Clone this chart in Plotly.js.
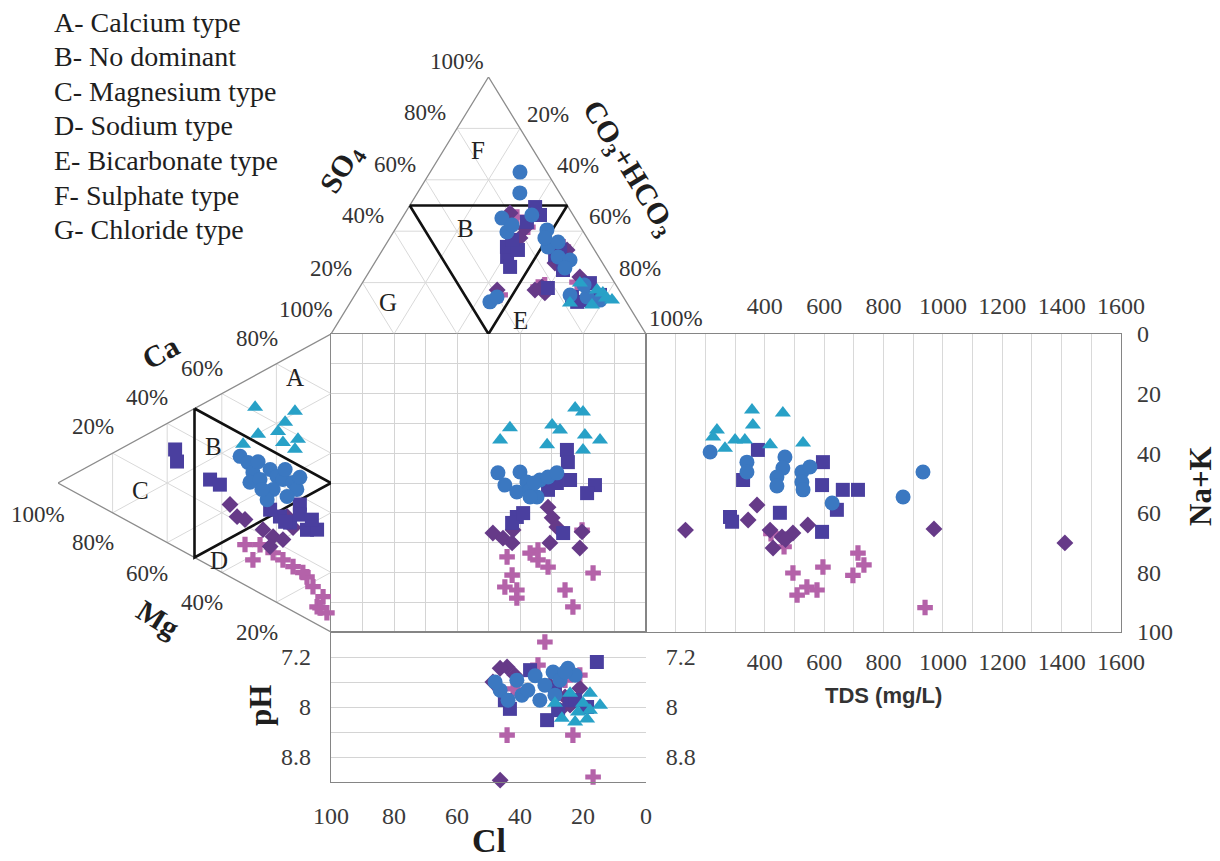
<!DOCTYPE html>
<html>
<head>
<meta charset="utf-8">
<script src="https://cdn.plot.ly/plotly-3.0.1.min.js"></script>
<style>
  html, body { margin: 0; padding: 0; background: #ffffff; }
  #chart { width: 1220px; height: 861px; font-family: "Liberation Serif"; }
</style>
</head>
<body>
<div id="chart"></div>
<script>
// ---------------- Durov diagram data ----------------
// Anion triangle (%): Cl, SO4, CO3+HCO3
const circleAnCl   = [8.5, 12.6, 23.2, 24.3, 13.1, 14.2, 12.9, 9.7, 43.3, 40.1, 16.5, 11.5, 11.2, 10.0, 21.3, 13.4, 12.9, 8.0, 10.1];
const circleAnSO4  = [63.0, 54.9, 45.1, 39.7, 46.3, 33.9, 30.0, 28.8, 12.5, 14.4, 15.2, 14.4, 40.5, 35.8, 42.4, 37.4, 25.7, 13.2, 19.1];
const circleAnHCO3 = [28.5, 32.5, 31.7, 36.0, 40.6, 51.9, 57.1, 61.5, 44.2, 45.5, 68.3, 74.1, 48.3, 54.2, 36.3, 49.2, 61.4, 78.8, 70.8];

const triangleAnCl   = [5.7, 11.5, 18.1, 4.2, 11.1, 7.0, 5.7];
const triangleAnSO4  = [16.0, 11.3, 12.1, 13.2, 19.8, 17.1, 14.0];
const triangleAnHCO3 = [78.3, 77.2, 69.8, 82.6, 69.1, 75.9, 80.3];

const squareAnCl   = [10.5, 10.5, 29.1, 30.1, 27.2, 24.3, 16.3, 15.6, 7.9, 10.9, 13.9, 22.2, 16.0, 24.2, 13.5, 11.2, 7.0];
const squareAnSO4  = [49.4, 46.3, 30.0, 26.1, 33.9, 32.7, 14.4, 12.5, 19.8, 32.7, 24.9, 17.9, 43.6, 36.6, 30.7, 13.2, 15.2];
const squareAnHCO3 = [40.1, 43.2, 40.9, 43.8, 38.9, 43.0, 69.3, 71.9, 72.3, 56.4, 61.2, 59.9, 40.4, 39.2, 55.8, 75.6, 77.8];

const diamondAnCl   = [19.6, 21.3, 23.9, 24.1, 38.7, 15.1, 9.9, 17.8, 26.7, 8.7];
const diamondAnSO4  = [47.1, 37.4, 18.3, 16.0, 17.1, 27.6, 22.2, 41.2, 17.1, 32.7];
const diamondAnHCO3 = [33.3, 41.3, 57.8, 59.9, 44.2, 57.3, 67.9, 41.0, 56.2, 58.6];

const crossAnCl   = [16.7, 18.2, 25.1, 11.8, 9.3, 38.7, 22.6];
const crossAnSO4  = [41.6, 45.5, 18.3, 20.2, 33.9, 15.2, 19.1];
const crossAnHCO3 = [41.7, 36.3, 56.6, 68.0, 56.8, 46.1, 58.3];

// Cation triangle (%): Ca, Mg, Na+K
const circleCatCa  = [42.3, 41.7, 39.2, 35.4, 38.2, 43.4, 42.3, 42.4, 43.2, 41.6, 37.4, 37.2, 32.7, 43.8, 46.1, 35.2, 46.2];
const circleCatMg  = [33.3, 30.4, 28.6, 29.7, 26.0, 22.3, 19.8, 17.6, 13.9, 12.5, 16.1, 21.2, 23.4, 26.7, 16.8, 25.3, 11.4];
const circleCatNaK = [24.4, 27.9, 32.2, 34.9, 35.8, 34.3, 37.9, 40.0, 42.9, 45.9, 46.5, 41.6, 43.9, 29.5, 37.1, 39.5, 42.4];

const triangleCatCa  = [61.5, 67.5, 53.0, 57.6, 62.0, 58.6, 54.7, 46.9, 54.8];
const triangleCatMg  = [27.8, 13.2, 26.7, 19.4, 16.8, 12.1, 13.2, 32.2, 17.6];
const triangleCatNaK = [10.7, 19.3, 20.3, 23.0, 21.2, 29.3, 32.1, 20.9, 27.6];

const squareCatCa  = [29.0, 29.1, 32.7, 29.0, 29.4, 29.2, 29.9, 31.8, 29.9, 37.1, 33.7, 34.2, 28.6];
const squareCatMg  = [44.3, 40.7, 57.1, 56.4, 18.7, 15.0, 8.8, 5.1, 22.3, 11.4, 11.4, 7.0, 16.8];
const squareCatNaK = [26.7, 30.2, 10.2, 14.6, 51.9, 55.8, 61.3, 63.1, 47.8, 51.5, 54.9, 58.8, 54.6];

const diamondCatCa  = [24.3, 21.5, 21.9, 21.4, 22.2, 17.5, 30.7, 22.0, 28.1];
const diamondCatMg  = [37.0, 34.4, 24.9, 21.2, 17.6, 22.3, 16.1, 31.5, 13.9];
const diamondCatNaK = [38.7, 44.1, 53.2, 57.4, 60.2, 60.2, 53.2, 46.5, 58.0];

const crossCatCa  = [9.9, 16.0, 15.0, 14.1, 11.9, 10.4, 5.9, 5.7, 16.3, 14.8, 13.6, 15.4, 6.1];
const crossCatMg  = [28.6, 21.2, 13.9, 8.8, 6.6, 2.9, 5.1, 1.5, 26.0, 10.3, 31.5, 17.6, 4.0];
const crossCatNaK = [61.5, 62.8, 71.1, 77.1, 81.5, 86.7, 89.0, 92.8, 57.7, 74.9, 54.9, 67.0, 89.9];

// Central square: Cl (%) against Na+K (%)
const circleSqCl  = [47.0, 44.8, 40.0, 37.8, 41.0, 36.8, 34.6, 33.7, 31.1, 28.3, 35.5, 36.8];
const circleSqNaK = [46.6, 50.7, 46.3, 49.7, 53.0, 52.3, 54.7, 49.0, 48.0, 46.6, 50.0, 54.7];
const triangleSqCl  = [22.5, 20.0, 43.2, 46.3, 29.8, 27.3, 31.4, 19.4, 14.6, 20.0];
const triangleSqNaK = [24.8, 26.2, 31.5, 35.6, 30.5, 32.2, 37.2, 33.9, 35.6, 38.9];
const squareSqCl  = [25.1, 24.8, 24.1, 16.2, 18.7, 26.3, 41.0, 42.5, 39.0, 28.3, 31.1];
const squareSqNaK = [38.9, 43.0, 49.0, 50.7, 53.4, 66.8, 61.4, 63.4, 60.1, 50.0, 52.3];
const diamondSqCl  = [48.6, 45.4, 42.5, 42.2, 31.1, 29.8, 28.3, 30.5, 20.3, 21.0];
const diamondSqNaK = [66.8, 68.5, 70.1, 65.8, 58.1, 61.7, 64.8, 70.1, 66.4, 71.8];
const crossSqCl  = [44.1, 36.8, 34.3, 34.3, 31.1, 42.5, 44.8, 41.0, 41.0, 25.7, 23.2, 16.8, 20.3];
const crossSqNaK = [74.8, 73.5, 72.5, 75.8, 78.2, 80.9, 84.9, 85.9, 88.6, 85.9, 91.6, 80.2, 65.8];

// TDS panel: TDS (mg/L) against Na+K (%)
const circleTds    = [216, 340, 340, 468, 461, 441, 525, 552, 525, 529, 627, 933, 866, 441];
const circleTdsNaK = [39.6, 43.0, 46.3, 41.3, 45.0, 48.0, 46.3, 44.6, 49.7, 52.3, 56.7, 46.3, 54.7, 51.0];
const triangleTds    = [357, 461, 360, 239, 226, 300, 333, 418, 529, 266];
const triangleTdsNaK = [25.5, 26.5, 30.5, 32.2, 34.6, 35.6, 35.6, 37.2, 36.6, 38.3];
const squareTds    = [377, 596, 327, 593, 663, 283, 290, 451, 593, 643, 714];
const squareTdsNaK = [38.9, 43.0, 49.0, 50.7, 52.3, 61.4, 63.0, 60.0, 66.4, 59.0, 52.3];
const diamondTds    = [133, 374, 344, 545, 458, 428, 418, 495, 970, 1411, 470];
const diamondTdsNaK = [65.8, 57.4, 62.4, 64.1, 68.1, 71.8, 65.8, 66.8, 65.4, 70.1, 69.0];
const crossTds    = [495, 596, 509, 542, 576, 714, 734, 697, 940, 465, 421];
const crossTdsNaK = [80.2, 78.2, 87.6, 84.9, 85.9, 73.5, 77.5, 81.0, 91.8, 71.4, 67.0];

// pH panel: Cl (%) against pH
const circlePhCl = [46.3, 43.8, 41.0, 39.4, 35.2, 32.1, 29.5, 27.3, 24.8, 22.5, 28.9, 33.7, 47.9, 37.5, 25.7];
const circlePh   = [7.73, 7.89, 7.57, 7.81, 7.50, 7.65, 7.44, 7.57, 7.38, 7.49, 7.81, 7.89, 7.60, 7.73, 7.44];
const trianglePhCl = [14.6, 18.7, 22.5, 26.7, 20.0, 24.1, 28.9, 17.8, 17.8, 21.6];
const trianglePh   = [7.97, 8.19, 8.24, 8.18, 7.94, 7.78, 7.94, 7.78, 8.05, 8.08];
const squarePhCl = [15.6, 31.4, 43.2, 18.7, 24.1, 27.9, 36.8, 44.8, 28.9, 22.5];
const squarePh   = [7.28, 8.21, 8.03, 8.00, 7.89, 8.05, 7.41, 7.89, 7.73, 7.89];
const diamondPhCl = [46.3, 48.6, 44.1, 41.6, 25.7, 27.3, 30.5, 21.0, 46.3, 24.1];
const diamondPh   = [9.17, 7.60, 7.36, 7.49, 7.84, 8.05, 7.65, 7.70, 7.38, 7.97];
const crossPhCl = [32.1, 44.1, 23.2, 16.8, 34.3, 42.2, 21.0, 25.7];
const crossPh   = [6.96, 8.45, 8.45, 9.12, 7.33, 7.71, 7.49, 7.57];

// Axis tick labels
const tdsTicks = [400, 600, 800, 1000, 1200, 1400, 1600];
const nakTicks = [0, 20, 40, 60, 80, 100];
const clTicks = [100, 80, 60, 40, 20, 0];
const phTicks = [7.2, 8, 8.8];
const phTickText = ['7.2', '8', '8.8'];
const percentTicks = [20, 40, 60, 80];

const waterTypes = [
  'A- Calcium type', 'B- No dominant', 'C- Magnesium type', 'D- Sodium type',
  'E- Bicarbonate type', 'F- Sulphate type', 'G- Chloride type'
];

// ---------------- geometry & helpers ----------------
const W = 1220, H = 861;
const SERIF = 'Liberation Serif';
const SANS = 'Liberation Sans';
const px = x => x / W;
const py = y => 1 - y / H;
// serif run for plain (non-bold) labels
const reg = t => '<span style="font-family:Liberation Serif;font-weight:normal">' + t + '</span>';
const bold = t => '<b>' + t + '</b>';

// panel frames in page pixels
const SQ = { l: 331, r: 646, t: 334, b: 632 };
const TDSR = 1121;
const PH_B = 782;
const TOP_APEX_Y = 77;
const LEFT_APEX_X = 58;

// ternary -> unit plane of each triangle
function anionXY(cl, so4, hco3) {
  const s = cl + so4 + hco3;
  return [(hco3 + so4 / 2) / s, so4 / s];
}
function cationXY(ca, mg, nak) {
  const s = ca + mg + nak;
  return [(ca + nak) / s, (ca + mg / 2) / s];
}

const groups = [
  { key: 'cross',    symbol: 'cross',       color: '#b462a9', size: 13,
    an: [crossAnCl, crossAnSO4, crossAnHCO3], cat: [crossCatCa, crossCatMg, crossCatNaK],
    sq: [crossSqCl, crossSqNaK], tds: [crossTds, crossTdsNaK], ph: [crossPhCl, crossPh] },
  { key: 'diamond',  symbol: 'diamond',     color: '#663a88', size: 13,
    an: [diamondAnCl, diamondAnSO4, diamondAnHCO3], cat: [diamondCatCa, diamondCatMg, diamondCatNaK],
    sq: [diamondSqCl, diamondSqNaK], tds: [diamondTds, diamondTdsNaK], ph: [diamondPhCl, diamondPh] },
  { key: 'square',   symbol: 'square',      color: '#4a3f9f', size: 14,
    an: [squareAnCl, squareAnSO4, squareAnHCO3], cat: [squareCatCa, squareCatMg, squareCatNaK],
    sq: [squareSqCl, squareSqNaK], tds: [squareTds, squareTdsNaK], ph: [squarePhCl, squarePh] },
  { key: 'circle',   symbol: 'circle',      color: '#3b78c1', size: 15,
    an: [circleAnCl, circleAnSO4, circleAnHCO3], cat: [circleCatCa, circleCatMg, circleCatNaK],
    sq: [circleSqCl, circleSqNaK], tds: [circleTds, circleTdsNaK], ph: [circlePhCl, circlePh] },
  { key: 'triangle', symbol: 'triangle-up', color: '#28a1c7', size: 14,
    an: [triangleAnCl, triangleAnSO4, triangleAnHCO3], cat: [triangleCatCa, triangleCatMg, triangleCatNaK],
    sq: [triangleSqCl, triangleSqNaK], tds: [triangleTds, triangleTdsNaK], ph: [trianglePhCl, trianglePh] }
];

const traces = [];

// ---- triangle frames and grids ----
function lineTrace(xs, ys, xa, ya, color, width) {
  return { type: 'scatter', mode: 'lines', x: xs, y: ys, xaxis: xa, yaxis: ya,
           line: { color: color, width: width }, hoverinfo: 'skip', showlegend: false, cliponaxis: false };
}
function ternaryGrid(toXY, xa, ya) {
  const gx = [], gy = [];
  percentTicks.forEach(k => {
    const segs = [
      [[100 - k, k, 0], [0, k, 100 - k]],
      [[100 - k, 0, k], [0, 100 - k, k]],
      [[k, 0, 100 - k], [k, 100 - k, 0]]
    ];
    segs.forEach(([p, q]) => {
      const a = toXY(p[0], p[1], p[2]), b = toXY(q[0], q[1], q[2]);
      gx.push(a[0], b[0], null); gy.push(a[1], b[1], null);
    });
  });
  traces.push(lineTrace(gx, gy, xa, ya, '#d9d9d9', 1));
  const corners = [[100, 0, 0], [0, 100, 0], [0, 0, 100], [100, 0, 0]].map(c => toXY(c[0], c[1], c[2]));
  traces.push(lineTrace(corners.map(c => c[0]), corners.map(c => c[1]), xa, ya, '#8c8c8c', 1.3));
  const mids = [[50, 50, 0], [0, 50, 50], [50, 0, 50], [50, 50, 0]].map(c => toXY(c[0], c[1], c[2]));
  traces.push(lineTrace(mids.map(c => c[0]), mids.map(c => c[1]), xa, ya, '#111111', 2.6));
}
ternaryGrid(anionXY, 'x4', 'y4');
ternaryGrid(cationXY, 'x6', 'y6');

// ---- sample markers in every panel ----
function markerTrace(xs, ys, xa, ya, g) {
  return { type: 'scatter', mode: 'markers', x: xs, y: ys, xaxis: xa, yaxis: ya, name: g.key,
           marker: { symbol: g.symbol, color: g.color, size: g.size, line: { width: 0 } },
           hoverinfo: 'skip', showlegend: false, cliponaxis: false };
}
groups.forEach(g => {
  const an = g.an[0].map((v, i) => anionXY(g.an[0][i], g.an[1][i], g.an[2][i]));
  traces.push(markerTrace(an.map(p => p[0]), an.map(p => p[1]), 'x4', 'y4', g));
  const cat = g.cat[0].map((v, i) => cationXY(g.cat[0][i], g.cat[1][i], g.cat[2][i]));
  traces.push(markerTrace(cat.map(p => p[0]), cat.map(p => p[1]), 'x6', 'y6', g));
  traces.push(markerTrace(g.sq[0], g.sq[1], 'x', 'y', g));
  traces.push(markerTrace(g.tds[0], g.tds[1], 'x2', 'y2', g));
  traces.push(markerTrace(g.ph[0], g.ph[1], 'x3', 'y3', g));
});
// placeholders so the mirrored label axes get drawn
traces.push({ type: 'scatter', x: [], y: [], xaxis: 'x5', yaxis: 'y2', showlegend: false });
traces.push({ type: 'scatter', x: [], y: [], xaxis: 'x3', yaxis: 'y7', showlegend: false });

// ---------------- axes ----------------
const tickFont = { family: SERIF, size: 24, color: '#3a3a3a' };
const frameLine = { showline: true, mirror: true, linecolor: '#858585', linewidth: 1.3 };
const hiddenTicks = { ticks: 'outside', tickcolor: 'rgba(0,0,0,0)' };
const gridStep = (lo, hi, step) => { const a = []; for (let v = lo; v <= hi + 1e-9; v += step) a.push(+v.toFixed(2)); return a; };

const tdsGrid = gridStep(0, 1600, 100);
const phGrid = gridStep(6.8, 9.2, 0.4);

const layout = {
  width: W, height: H,
  margin: { l: 0, r: 0, t: 0, b: 0 },
  paper_bgcolor: '#ffffff', plot_bgcolor: 'rgba(0,0,0,0)',
  showlegend: false, hovermode: false,
  font: { size: 24, color: '#333333' },

  // central square
  xaxis: Object.assign({ anchor: 'y', domain: [px(SQ.l), px(SQ.r)], range: [100, 0],
    tickmode: 'linear', tick0: 0, dtick: 10, showticklabels: false, ticks: '',
    showgrid: true, gridcolor: '#d4d4d4', gridwidth: 1, zeroline: false, fixedrange: true }, frameLine),
  yaxis: Object.assign({ anchor: 'x', domain: [py(SQ.b), py(SQ.t)], range: [100, 0],
    tickmode: 'linear', tick0: 0, dtick: 10, showticklabels: false, ticks: '',
    showgrid: true, gridcolor: '#d4d4d4', gridwidth: 1, zeroline: false, fixedrange: true }, frameLine),

  // TDS panel
  xaxis2: Object.assign({ anchor: 'y2', domain: [px(SQ.r), px(TDSR)], range: [0, 1600], side: 'top',
    tickmode: 'array', tickvals: tdsGrid,
    ticktext: tdsGrid.map(v => tdsTicks.includes(v) ? reg(String(v)) : ''),
    tickfont: tickFont, ticklen: 9, showgrid: true, gridcolor: '#d9d9d9', zeroline: false, fixedrange: true },
    hiddenTicks, frameLine),
  xaxis5: Object.assign({ anchor: 'y2', overlaying: 'x2', domain: [px(SQ.r), px(TDSR)], range: [0, 1600], side: 'bottom',
    tickmode: 'array', tickvals: tdsTicks, ticktext: tdsTicks.map(v => reg(String(v))),
    tickfont: tickFont, ticklen: 8, showgrid: false, zeroline: false,
    showline: false, fixedrange: true }, hiddenTicks),
  yaxis2: Object.assign({ anchor: 'x2', domain: [py(SQ.b), py(SQ.t)], range: [100, 0], side: 'right',
    tickmode: 'array', tickvals: nakTicks, ticktext: nakTicks.map(v => reg(String(v))),
    tickfont: tickFont, ticklen: 10,
    showgrid: false, zeroline: false, fixedrange: true }, hiddenTicks, frameLine),

  // pH panel
  xaxis3: Object.assign({ anchor: 'y3', domain: [px(SQ.l), px(SQ.r)], range: [100, 0],
    tickmode: 'array', tickvals: clTicks, ticktext: clTicks.map(v => reg(String(v))),
    tickfont: tickFont, ticklen: 12,
    showgrid: false, zeroline: false, showline: true, mirror: true, linecolor: '#858585', linewidth: 1.3,
    fixedrange: true }, hiddenTicks),
  yaxis3: Object.assign({ anchor: 'x3', domain: [py(PH_B), py(SQ.b)], range: [9.2, 6.8],
    tickmode: 'array', tickvals: phGrid,
    ticktext: phGrid.map(v => { const i = phTicks.indexOf(v); return i >= 0 ? reg(phTickText[i]) : ''; }),
    tickfont: tickFont, ticklen: 14, showgrid: true, gridcolor: '#d4d4d4', zeroline: false,
    showline: true, linecolor: '#858585', linewidth: 1.3, fixedrange: true }, hiddenTicks),
  yaxis7: Object.assign({ anchor: 'x3', overlaying: 'y3', side: 'right', range: [9.2, 6.8],
    tickmode: 'array', tickvals: phTicks, ticktext: phTickText.map(reg), tickfont: tickFont, ticklen: 14,
    showgrid: false, zeroline: false, showline: false, fixedrange: true }, hiddenTicks),

  // anion triangle (apex up)
  xaxis4: { anchor: 'y4', domain: [px(SQ.l), px(SQ.r)], range: [0, 1], visible: false, fixedrange: true },
  yaxis4: { anchor: 'x4', domain: [py(SQ.t), py(TOP_APEX_Y)], range: [0, 1], visible: false, fixedrange: true },
  // cation triangle (apex left)
  xaxis6: { anchor: 'y6', domain: [px(LEFT_APEX_X), px(SQ.l)], range: [0, 1], visible: false, fixedrange: true },
  yaxis6: { anchor: 'x6', domain: [py(SQ.b), py(SQ.t)], range: [0, 1], visible: false, fixedrange: true },

  annotations: []
};

// ---------------- text ----------------
function note(text, x, y, size, extra) {
  layout.annotations.push(Object.assign({
    text: text, x: px(x), y: py(y), xref: 'paper', yref: 'paper', showarrow: false,
    xanchor: 'center', yanchor: 'middle',
    font: { family: SERIF, size: size, color: '#333333' }
  }, extra || {}));
}
const titleFont = size => ({ family: SERIF, size: size, color: '#1e1e1e' });

// water type list
waterTypes.forEach((t, i) => note(reg(t), 52, 22 + i * 34.6, 28, { xanchor: 'left', font: titleFont(28) }));

// anion triangle scale
note(reg('100%'), 457, 62, 23);
[['80%', 425, 112], ['60%', 395, 165], ['40%', 363, 216], ['20%', 331, 268], ['100%', 306, 310]]
  .forEach(a => note(reg(a[0]), a[1], a[2], 23));
[['20%', 548, 114], ['40%', 578, 166], ['60%', 610, 217], ['80%', 640, 268], ['100%', 676, 318]]
  .forEach(a => note(reg(a[0]), a[1], a[2], 23));
note(bold('SO<sub>4</sub>'), 342, 170, 30, { textangle: -58.6, font: titleFont(30) });
note(bold('CO<sub>3</sub>+HCO<sub>3</sub>'), 628, 168, 30, { textangle: 58.6, font: titleFont(30) });

// cation triangle scale
[['80%', 257, 338], ['60%', 202, 368], ['40%', 147, 397], ['20%', 93, 427], ['100%', 38, 514]]
  .forEach(a => note(reg(a[0]), a[1], a[2], 23));
[['80%', 93, 542], ['60%', 147, 573], ['40%', 202, 602], ['20%', 257, 632]]
  .forEach(a => note(reg(a[0]), a[1], a[2], 23));
note(bold('Ca'), 160, 352, 30, { textangle: -29, font: titleFont(30) });
note(bold('Mg'), 158, 618, 30, { textangle: 32, font: titleFont(30) });

// region letters
[['F', 478, 150], ['B', 465, 228], ['G', 388, 302], ['E', 520, 320],
 ['A', 295, 378], ['B', 213, 447], ['C', 140, 490], ['D', 219, 560]]
  .forEach(a => note(reg(a[0]), a[1], a[2], 25, { font: { family: SERIF, size: 25, color: '#222222' } }));

// axis titles
note(bold('Na+K'), 1200, 486, 31, { textangle: -90, font: titleFont(31) });
note(bold('pH'), 260, 706, 31, { textangle: -90, font: titleFont(31) });
note(bold('Cl'), 489, 840, 34, { font: titleFont(34) });
note(bold('TDS (mg/L)'), 883, 695, 22, { font: { family: SANS, size: 22, color: '#333333' } });

const config = { staticPlot: true, displayModeBar: false };
Plotly.newPlot('chart', traces, layout, config);
// redraw once the serif faces are ready so every label picks them up
if (document.fonts && document.fonts.load) {
  Promise.all([
    document.fonts.load('24px "Liberation Serif"'),
    document.fonts.load('bold 24px "Liberation Serif"')
  ]).then(() => Plotly.react('chart', traces, layout, config)).catch(() => {});
}
</script>
</body>
</html>
